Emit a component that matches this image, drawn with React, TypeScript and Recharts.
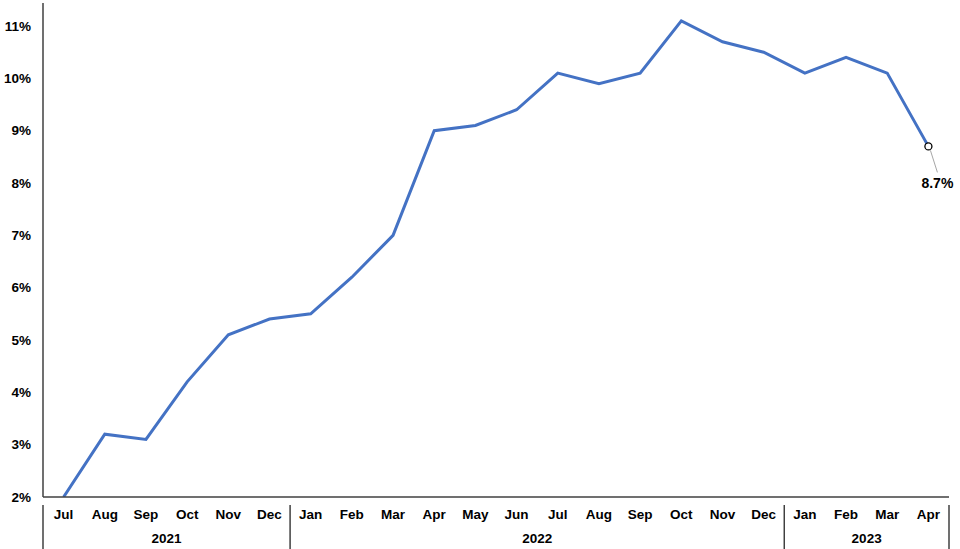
import React from 'react';
import { LineChart, Line, XAxis, YAxis } from 'recharts';

const months = [
  'Jul', 'Aug', 'Sep', 'Oct', 'Nov', 'Dec',
  'Jan', 'Feb', 'Mar', 'Apr', 'May', 'Jun', 'Jul', 'Aug', 'Sep', 'Oct', 'Nov', 'Dec',
  'Jan', 'Feb', 'Mar', 'Apr',
];
const years = ['2021', '2022', '2023'];
const monthsPerYear = [6, 12, 4];
const inflation = [
  2.0, 3.2, 3.1, 4.2, 5.1, 5.4,
  5.5, 6.2, 7.0, 9.0, 9.1, 9.4, 10.1, 9.9, 10.1, 11.1, 10.7, 10.5,
  10.1, 10.4, 10.1, 8.7,
];
const yTicks = [2, 3, 4, 5, 6, 7, 8, 9, 10, 11];

const data = months.map((m, i) => ({ key: `${m}-${i}`, month: m, value: inflation[i] }));

// year group start indexes
const groupStarts: number[] = [];
monthsPerYear.reduce((acc, n) => {
  groupStarts.push(acc);
  return acc + n;
}, 0);

const W = 960;
const H = 549;
const margin = { top: 3, right: 11, left: 0, bottom: 0 };
const yAxisWidth = 43;
const xAxisHeight = 52;
const plotW = W - margin.left - margin.right - yAxisWidth;
const band = plotW / months.length;
const font = '"Liberation Sans", Arial, sans-serif';
const fontSize = 13.5;
const axisColor = '#404040';

const MonthTick = (props: any) => {
  const { x, y, payload, index } = props;
  const i = typeof index === 'number' ? index : payload.index;
  const g = groupStarts.indexOf(i);
  const isLast = i === months.length - 1;
  return (
    <g>
      <text x={x} y={y + 14} textAnchor="middle" fontFamily={font} fontSize={fontSize} fontWeight="bold" fill="#000">
        {months[i]}
      </text>
      {g >= 0 && (
        <>
          <line x1={x - band / 2} x2={x - band / 2} y1={y} y2={y + 50} stroke={axisColor} strokeWidth={1.5} />
          <text
            x={x - band / 2 + (monthsPerYear[g] * band) / 2}
            y={y + 38}
            textAnchor="middle"
            fontFamily={font}
            fontSize={fontSize}
            fontWeight="bold"
            fill="#000"
          >
            {years[g]}
          </text>
        </>
      )}
      {isLast && (
        <line x1={x + band / 2} x2={x + band / 2} y1={y} y2={y + 50} stroke={axisColor} strokeWidth={1.5} />
      )}
    </g>
  );
};

const EndDot = (props: any) => {
  const { cx, cy, index } = props;
  if (index !== inflation.length - 1) return <g key={`dot-${index}`} />;
  return <circle key={`dot-${index}`} cx={cx} cy={cy} r={3.5} fill="#fff" stroke="#000" strokeWidth={1.3} />;
};

const EndLabel = (props: any) => {
  const { x, y, index, value } = props;
  if (index !== inflation.length - 1) return null;
  return (
    <g>
      <line x1={x + 2} y1={y + 4} x2={x + 9} y2={y + 26} stroke="#a6a6a6" strokeWidth={1} />
      <text x={x + 9} y={y + 42} textAnchor="middle" fontFamily={font} fontSize={14} fontWeight="bold" fill="#000">
        {`${value.toFixed(1)}%`}
      </text>
    </g>
  );
};

export default function App() {
  return (
    <div style={{ position: 'absolute', left: 0, top: 0, width: W, height: H, background: '#fff' }}>
      <LineChart width={W} height={H} data={data} margin={margin}>
        <XAxis
          dataKey="key"
          height={xAxisHeight}
          interval={0}
          padding={{ left: band / 2, right: band / 2 }}
          axisLine={{ stroke: axisColor, strokeWidth: 1.5 }}
          tickLine={false}
          tick={<MonthTick />}
        />
        <YAxis
          width={yAxisWidth}
          domain={[2, 11.44]}
          ticks={yTicks}
          allowDataOverflow
          axisLine={{ stroke: axisColor, strokeWidth: 1.5 }}
          tickLine={false}
          tickFormatter={(v: number) => `${v}%`}
          tick={{ fontFamily: font, fontSize: fontSize, fontWeight: 'bold', fill: '#000' }}
          tickMargin={6}
        />
        <Line
          type="linear"
          dataKey="value"
          stroke="#4472C4"
          strokeWidth={3}
          dot={<EndDot />}
          activeDot={false}
          label={<EndLabel />}
          isAnimationActive={false}
        />
      </LineChart>
    </div>
  );
}
